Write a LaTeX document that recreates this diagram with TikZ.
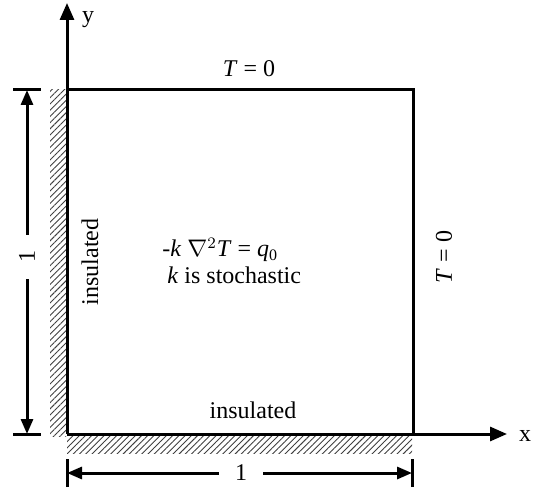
\documentclass[tikz,border=0pt]{standalone}
\usepackage{fontspec}
\setmainfont{Liberation Serif}
\usetikzlibrary{arrows.meta,patterns.meta}

\begin{document}
\begin{tikzpicture}[
  x=0.5pt, y=-0.5pt,
  edge/.style={line width=1.5pt},
  axis/.style={line width=1.5pt, -{Triangle[length=8.5pt,width=7pt]}},
  dim/.style={line width=1.5pt, -{Triangle[length=7.5pt,width=6pt]}},
  tickline/.style={line width=1.5pt},
  hatch/.style={pattern={Lines[angle=45,distance=2.2pt,line width=0.45pt]}, pattern color=black!75},
  lbl/.style={font=\fontsize{12}{14}\selectfont, inner sep=1pt},
  dimlbl/.style={font=\fontsize{12}{14}\selectfont, inner xsep=8pt, inner ysep=2pt}
]
  \useasboundingbox (0,0) rectangle (533,490);

  % corners of the plate
  \coordinate (O) at (67,434);
  \coordinate (A) at (413,434);
  \coordinate (B) at (413,90);
  \coordinate (C) at (67,90);
  \coordinate (xtip) at (507,434);
  \coordinate (ytip) at (67,3);

  % insulated walls
  \fill[hatch] (50,90) rectangle (66,436);
  \fill[hatch] (67,436) rectangle (412,453);

  \draw[edge] (C) -- (B) -- (A);
  \draw[axis] (O) -- (xtip);
  \draw[axis] (O) -- (ytip);
  \node[lbl] (xlab) at (525,436) {x};
  \node[lbl] (ylab) at (88,20) {y};

  % dimensions
  \coordinate (htop) at (27,90);
  \coordinate (hbot) at (27,434);
  \node[dimlbl, rotate=90] (hdim) at (27,257) {1};
  \draw[dim] (hdim) -- (htop);
  \draw[dim] (hdim) -- (hbot);
  \draw[tickline] ([xshift=-7pt]htop) -- ([xshift=7pt]htop);
  \draw[tickline] ([xshift=-7pt]hbot) -- ([xshift=7pt]hbot);

  \coordinate (wleft) at (67,473);
  \coordinate (wright) at (412,473);
  \node[dimlbl] (wdim) at (241,473) {1};
  \draw[dim] (wdim) -- (wleft);
  \draw[dim] (wdim) -- (wright);
  \draw[tickline] ([yshift=-7pt]wleft) -- ([yshift=7pt]wleft);
  \draw[tickline] ([yshift=-7pt]wright) -- ([yshift=7pt]wright);

  % boundary conditions
  \node[lbl] (ttop) at (249,69) {\textit{T} = 0};
  \node[lbl, rotate=90] (tright) at (444,257) {\textit{T} = 0};
  \node[lbl, rotate=90] (insleft) at (90,262) {insulated};
  \node[lbl] (insbot) at (253,410) {insulated};

  \node[lbl, anchor=base west] (pde) at (160,257) {-\textit{k} $\nabla^2$\textit{T} = \textit{q}\textsubscript{0}};
  \node[lbl, anchor=base west] (kstoch) at (165,284) {\textit{k} is stochastic};
\end{tikzpicture}
\end{document}
